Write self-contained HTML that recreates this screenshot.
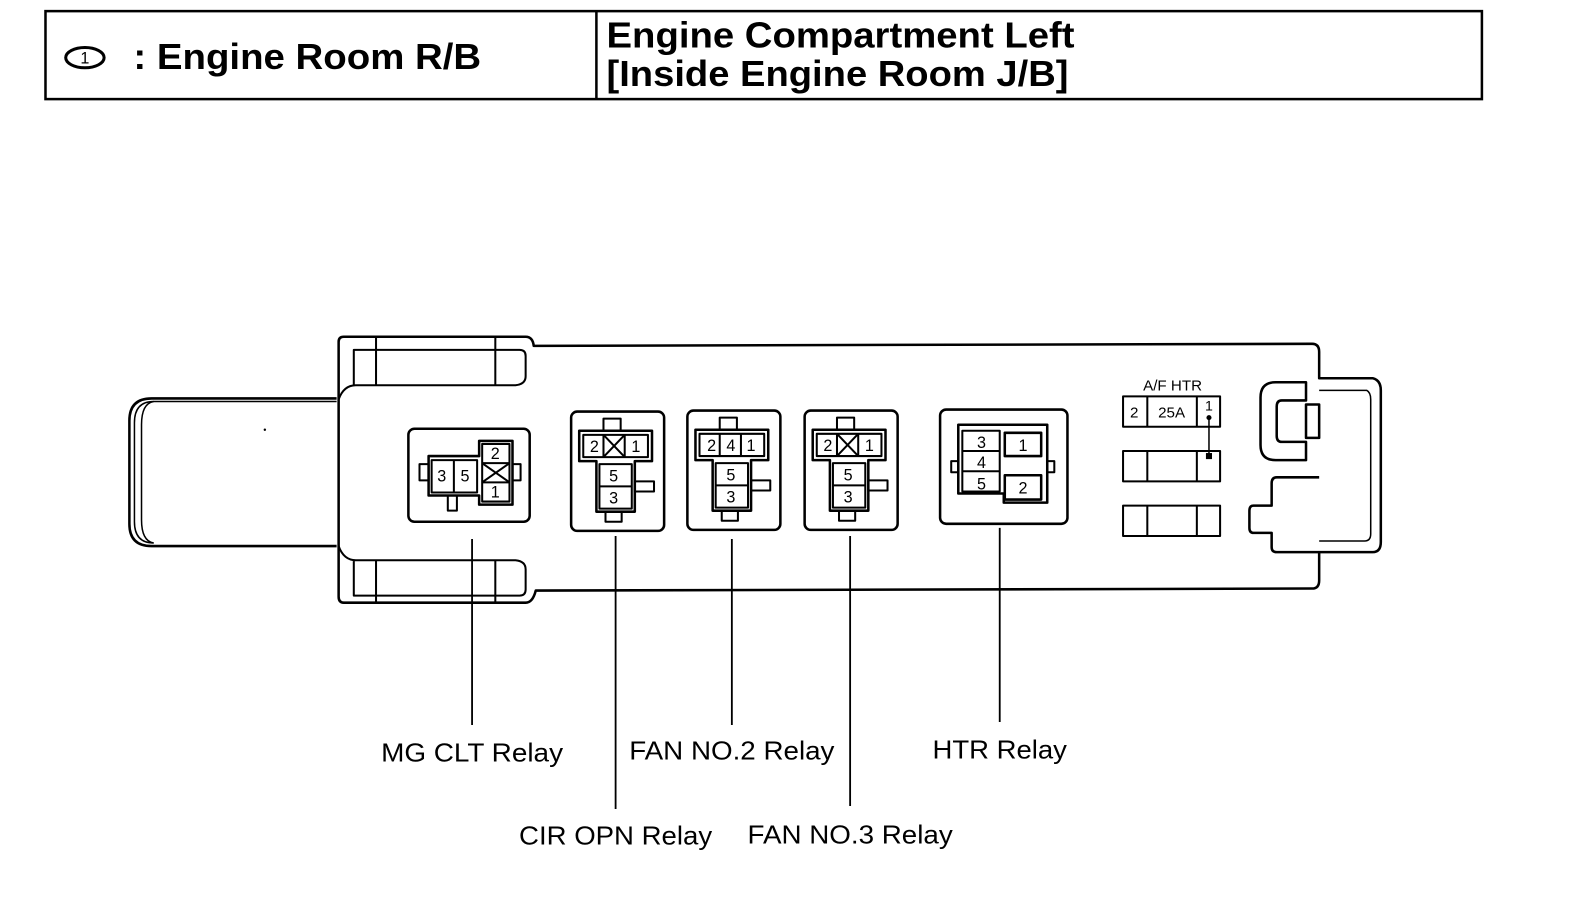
<!DOCTYPE html>
<html><head><meta charset="utf-8"><style>
html,body{margin:0;padding:0;background:#fff;width:1584px;height:900px;overflow:hidden}
svg{display:block}
.t{font-family:"Liberation Sans",sans-serif;fill:#000}
</style></head><body>
<svg width="1584" height="900" viewBox="0 0 1567 890" preserveAspectRatio="none" xmlns="http://www.w3.org/2000/svg">
<g fill="none" stroke="#000" stroke-width="2.5">
<rect x="45" y="11" width="1421" height="87"/>
<line x1="590" y1="10" x2="590" y2="98"/>
<ellipse cx="84" cy="57" rx="19" ry="10" stroke-width="3"/>
</g>
<text x="84" y="63" class="t" font-size="16" text-anchor="middle">1</text>
<text x="132" y="68" class="t" font-size="36" font-weight="bold" textLength="344" lengthAdjust="spacingAndGlyphs">: Engine Room R/B</text>
<text x="600" y="47" class="t" font-size="36" font-weight="bold" textLength="463" lengthAdjust="spacingAndGlyphs">Engine Compartment Left</text>
<text x="600" y="85" class="t" font-size="36" font-weight="bold" textLength="457" lengthAdjust="spacingAndGlyphs">[Inside Engine Room J/B]</text>

<g fill="none" stroke="#000" stroke-width="2.5" stroke-linejoin="round">
<path d="M333,394 L150,394 Q128,394 128,416 L128,518 Q128,540 150,540 L333,540"/>
<path d="M333,397 L152,397 Q133,397 133,418 L133,516 Q133,537 152,537" stroke-width="1.5"/>
<path d="M152,397 Q140,399 140,420 L140,514 Q140,535 152,537" stroke-width="1.5"/>
<path d="M335,398 L335,338 Q335,333 340,333 L520,333 Q527,333 528,342 L1298,340 Q1305,340 1305,348 L1305,374 L1358,374 Q1366,376 1366,386 L1366,536 Q1366,546 1358,546 L1305,546 L1305,574 Q1305,582 1298,582 L530,584 Q527,596 520,596 L340,596 Q335,596 335,590 Z"/>
<path d="M335,395 Q340,381 352,381 L510,381 Q520,380 520,372 L520,352 Q520,346 514,346 L350,346 L350,381" stroke-width="2"/>
<path d="M372,333 L372,381 M490,333 L490,381" stroke-width="2"/>
<path d="M335,540 Q340,554 352,554 L510,554 Q520,555 520,563 L520,583 Q520,589 514,589 L350,589 L350,554" stroke-width="2"/>
<path d="M372,554 L372,596 M490,554 L490,596" stroke-width="2"/>
<path d="M1305,386 L1352,386 Q1356,388 1356,395 L1356,528 Q1356,535 1350,535 L1305,535" stroke-width="1.5"/>
<path d="M1292,378 L1262,378 Q1247,378 1247,393 L1247,440 Q1247,455 1262,455 L1292,455 L1292,437 L1268,437 Q1263,437 1263,431 L1263,402 Q1263,396 1268,396 L1292,396 Z"/>
<rect x="1292" y="400" width="13" height="33"/>
<path d="M1305,472 L1263,472 Q1258,472 1258,478 L1258,500 L1240,500 Q1236,500 1236,505 L1236,522 Q1236,527 1240,527 L1258,527 L1258,541 Q1258,546 1263,546 L1305,546"/>

<rect x="404" y="424" width="120" height="92" rx="6"/>
<path d="M424,451 L474,451 L474,436 L507,436 L507,499 L474,499 L474,490 L424,490 Z"/>
<rect x="427" y="455" width="45" height="32" stroke-width="2"/>
<line x1="449" y1="455" x2="449" y2="487" stroke-width="2"/>
<rect x="477" y="439" width="27" height="57" stroke-width="2"/>
<line x1="477" y1="458" x2="504" y2="458" stroke-width="2"/>
<line x1="477" y1="477" x2="504" y2="477" stroke-width="2"/>
<path d="M477,458 L504,477 M504,458 L477,477" stroke-width="2"/>
<rect x="415" y="459" width="9" height="16" stroke-width="2"/>
<rect x="507" y="459" width="8" height="16" stroke-width="2"/>
<rect x="443" y="490" width="9" height="15" stroke-width="2"/>

<g id="r1">
<rect x="565" y="407" width="92" height="118" rx="6"/>
<rect x="597" y="414" width="17" height="12" stroke-width="2"/>
<path d="M573,426 L645,426 L645,456 L628,456 L628,506 L590,506 L590,456 L573,456 Z"/>
<rect x="577" y="430" width="64" height="22" stroke-width="2"/>
<line x1="597" y1="430" x2="597" y2="452" stroke-width="2"/>
<line x1="618" y1="430" x2="618" y2="452" stroke-width="2"/>
<rect x="593" y="459" width="32" height="44" stroke-width="2"/>
<line x1="593" y1="481" x2="625" y2="481" stroke-width="2"/>
<rect x="628" y="476" width="19" height="10" stroke-width="2"/>
<rect x="599" y="506" width="16" height="10" stroke-width="2"/>
</g>
<path d="M597,430 L618,452 M618,430 L597,452" stroke-width="2"/>
<use href="#r1" x="115" y="-1"/>
<use href="#r1" x="231" y="-1"/>
<path d="M828,429 L849,451 M849,429 L828,451" stroke-width="2"/>

<rect x="930" y="405" width="126" height="113" rx="6"/>
<path d="M948,420 L1036,420 L1036,497 L993,497 L993,488 L948,488 Z"/>
<rect x="952" y="426" width="37" height="60" stroke-width="2"/>
<line x1="952" y1="446" x2="989" y2="446" stroke-width="2"/>
<line x1="952" y1="466" x2="989" y2="466" stroke-width="2"/>
<rect x="994" y="428" width="36" height="23" stroke-width="2.5"/>
<rect x="994" y="470" width="36" height="24" stroke-width="2.5"/>
<rect x="941" y="456" width="7" height="11" stroke-width="2"/>
<rect x="1036" y="456" width="7" height="11" stroke-width="2"/>

<rect x="1111" y="392" width="96" height="30" stroke-width="2"/>
<line x1="1135" y1="392" x2="1135" y2="422" stroke-width="2"/>
<line x1="1184" y1="392" x2="1184" y2="422" stroke-width="2"/>
<rect x="1111" y="446" width="96" height="30" stroke-width="2"/>
<line x1="1135" y1="446" x2="1135" y2="476" stroke-width="2"/>
<line x1="1184" y1="446" x2="1184" y2="476" stroke-width="2"/>
<rect x="1111" y="500" width="96" height="30" stroke-width="2"/>
<line x1="1135" y1="500" x2="1135" y2="530" stroke-width="2"/>
<line x1="1184" y1="500" x2="1184" y2="530" stroke-width="2"/>
<line x1="1196" y1="413" x2="1196" y2="451" stroke-width="1.5"/>

<g stroke-width="1.8">
<line x1="467" y1="533" x2="467" y2="717"/>
<line x1="609" y1="530" x2="609" y2="800"/>
<line x1="724" y1="533" x2="724" y2="717"/>
<line x1="841" y1="530" x2="841" y2="797"/>
<line x1="989" y1="522" x2="989" y2="714"/>
</g>
</g>
<circle cx="1196" cy="413" r="2.5"/>
<rect x="1193" y="448" width="6" height="6"/>
<circle cx="262" cy="425" r="1.2"/>

<g class="t" font-size="16" text-anchor="middle">
<text x="437" y="476">3</text><text x="460" y="476">5</text>
<text x="490" y="454">2</text><text x="490" y="492">1</text>
<text x="588" y="447">2</text><text x="629" y="447">1</text>
<text x="607" y="476">5</text><text x="607" y="498">3</text>
<text x="704" y="446">2</text><text x="723" y="446">4</text><text x="743" y="446">1</text>
<text x="723" y="475">5</text><text x="723" y="497">3</text>
<text x="819" y="446">2</text><text x="860" y="446">1</text>
<text x="839" y="475">5</text><text x="839" y="497">3</text>
<text x="971" y="443">3</text><text x="971" y="463">4</text><text x="971" y="484">5</text>
<text x="1012" y="446">1</text><text x="1012" y="488">2</text>
<text x="1122" y="413" font-size="15">2</text>
<text x="1159" y="413" font-size="15">25A</text>
<text x="1196" y="406" font-size="14">1</text>
<text x="1160" y="386" font-size="15">A/F HTR</text>
</g>
<g class="t" font-size="26" text-anchor="middle">
<text x="467" y="753" textLength="180" lengthAdjust="spacingAndGlyphs">MG CLT Relay</text>
<text x="724" y="751" textLength="203" lengthAdjust="spacingAndGlyphs">FAN NO.2 Relay</text>
<text x="989" y="750" textLength="133" lengthAdjust="spacingAndGlyphs">HTR Relay</text>
<text x="609" y="835" textLength="191" lengthAdjust="spacingAndGlyphs">CIR OPN Relay</text>
<text x="841" y="834" textLength="203" lengthAdjust="spacingAndGlyphs">FAN NO.3 Relay</text>
</g>
</svg>
</body></html>
